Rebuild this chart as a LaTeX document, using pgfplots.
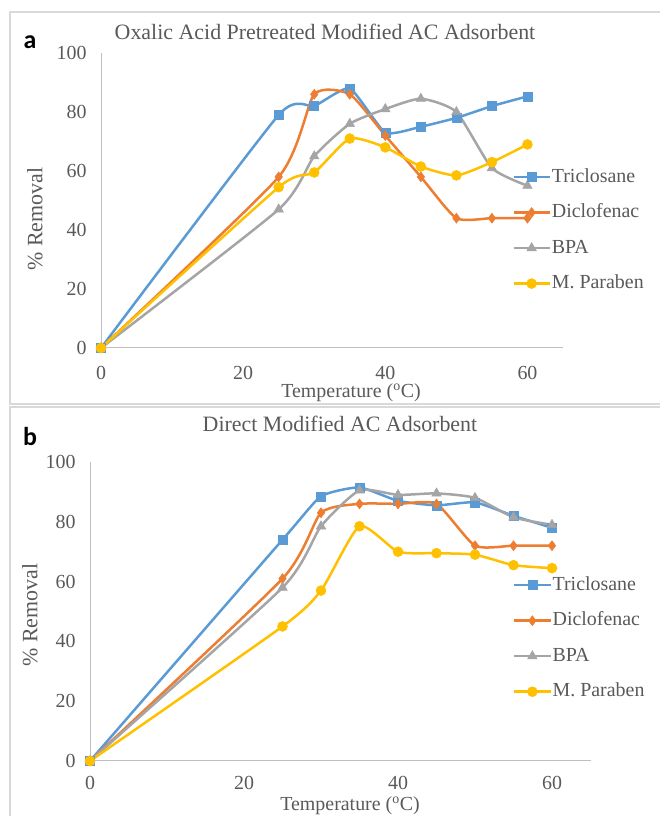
\documentclass[border=0pt]{standalone}
\usepackage{pgfplots}
\pgfplotsset{compat=1.18}
\usepackage{fontspec}
\setmainfont{Liberation Serif}
\newfontfamily\labfont{Carlito}
\definecolor{cTri}{HTML}{5B9BD5}
\definecolor{cDic}{HTML}{ED7D31}
\definecolor{cBPA}{HTML}{A5A5A5}
\definecolor{cPar}{HTML}{FFC000}
\definecolor{txt}{HTML}{595959}
\definecolor{axl}{HTML}{BFBFBF}
\definecolor{frm}{HTML}{D9D9D9}

\pgfplotsset{
  panel/.style={
    scale only axis, clip=false,
    xmin=0, xmax=65, ymin=0, ymax=100,
    axis lines=left,
    axis line style={axl, line width=1bp, -},
    major tick length=0pt,
    xtick={0,20,40,60}, ytick={0,20,40,60,80,100},
    /pgf/number format/assume math mode=true,
    tick label style={font=\fontsize{20}{22}\selectfont, text=txt},
    yticklabel style={xshift=-11bp},
    legend cell align=left,
    legend style={draw=none, fill=none, inner sep=0pt,
      font=\fontsize{20}{22}\selectfont, text=txt,
      nodes={inner sep=1bp, text height=14bp, text depth=4bp},
      row sep=15.5bp,
      /tikz/every odd column/.append style={column sep=0bp}},
    legend image code/.code={\draw[mark repeat=2,mark phase=2] plot coordinates {(0bp,0bp)(18bp,0bp)(36bp,0bp)};},
  },
  sT/.style={cTri, line width=2.5bp, smooth, tension=0.3, mark=square*, mark size=4.5bp, mark options={solid, fill=cTri, draw=cTri, line width=0.5bp}},
  sD/.style={cDic, line width=2.5bp, smooth, tension=0.35, mark=diamond*, mark size=5bp, mark options={solid, fill=cDic, draw=cDic, line width=0.5bp}},
  sB/.style={cBPA, line width=2.5bp, smooth, tension=0.35, mark=triangle*, mark size=5.5bp, mark options={solid, fill=cBPA, draw=cBPA, line width=0.5bp}},
  sP/.style={cPar, line width=2.5bp, smooth, tension=0.35, mark=*, mark size=5bp, mark options={solid, fill=cPar, draw=cPar, line width=0.5bp}},
}

\begin{document}
\begin{tikzpicture}[x=1bp,y=1bp]
\useasboundingbox (0,0) rectangle (660,816);
\clip (0,0) rectangle (660,816);
% panel frames
\draw[frm, line width=1.5bp] (10,412) rectangle (690,804);
\draw[frm, line width=1.5bp] (10,-20) rectangle (690,409);

% ---------- panel a ----------
\begin{axis}[panel, at={(101bp,468bp)}, anchor=south west, width=462bp, height=295bp,
  xticklabel style={yshift=-15bp},
  legend style={at={(0.89,0.614)}, anchor=north west}]
\addplot+[sT] coordinates {(0,0)(25,79)(30,82)(35,88)(40,73)(45,75)(50,78)(55,82)(60,85.3)};
\addlegendentry{Triclosane}
\addplot+[sD] coordinates {(0,0)(25,58)(30,86)(35,86)(40,72)(45,58)(50,44)(55,44)(60,44)};
\addlegendentry{Diclofenac}
\addplot+[sB] coordinates {(0,0)(25,47)(30,65)(35,76)(40,81)(45,84.5)(50,80)(55,61)(60,55)};
\addlegendentry{BPA}
\addplot+[sP] coordinates {(0,0)(25,54.5)(30,59.5)(35,71)(40,68)(45,61.5)(50,58.5)(55,63)(60,69)};
\addlegendentry{M. Paraben}
\end{axis}

% ---------- panel b ----------
\begin{axis}[panel, at={(90bp,55bp)}, anchor=south west, width=500.5bp, height=299bp,
  xticklabel style={yshift=-12bp},
  legend style={at={(0.845,0.622)}, anchor=north west}]
\addplot+[sT] coordinates {(0,0)(25,74)(30,88.5)(35,91.5)(40,87)(45,85.5)(50,86.5)(55,82)(60,78)};
\addlegendentry{Triclosane}
\addplot+[sD] coordinates {(0,0)(25,61)(30,83)(35,86)(40,86)(45,86)(50,72)(55,72)(60,72)};
\addlegendentry{Diclofenac}
\addplot+[sB] coordinates {(0,0)(25,58)(30,78.5)(35,90.5)(40,89)(45,89.5)(50,88)(55,81.5)(60,79)};
\addlegendentry{BPA}
\addplot+[sP] coordinates {(0,0)(25,45)(30,57)(35,78.5)(40,70)(45,69.5)(50,69)(55,65.5)(60,64.5)};
\addlegendentry{M. Paraben}
\end{axis}

% titles and labels
\node[text=txt, font=\fontsize{22}{24}\selectfont] at (325,784) {Oxalic Acid Pretreated Modified AC Adsorbent};
\node[text=txt, font=\fontsize{22}{24}\selectfont] at (340,392) {Direct Modified AC Adsorbent};
\node[text=txt, font=\fontsize{20}{22}\selectfont] at (351,423) {Temperature (\textsuperscript{o}C)};
\node[text=txt, font=\fontsize{20}{22}\selectfont] at (350,10) {Temperature (\textsuperscript{o}C)};
\node[text=txt, font=\fontsize{22}{24}\selectfont, rotate=90] at (35,597) {\% Removal};
\node[text=txt, font=\fontsize{22}{24}\selectfont, rotate=90] at (30,201) {\% Removal};
\node[font=\labfont\bfseries\fontsize{26}{28}\selectfont] at (30,774) {a};
\node[font=\labfont\bfseries\fontsize{26}{28}\selectfont] at (30,379) {b};
\end{tikzpicture}
\end{document}
